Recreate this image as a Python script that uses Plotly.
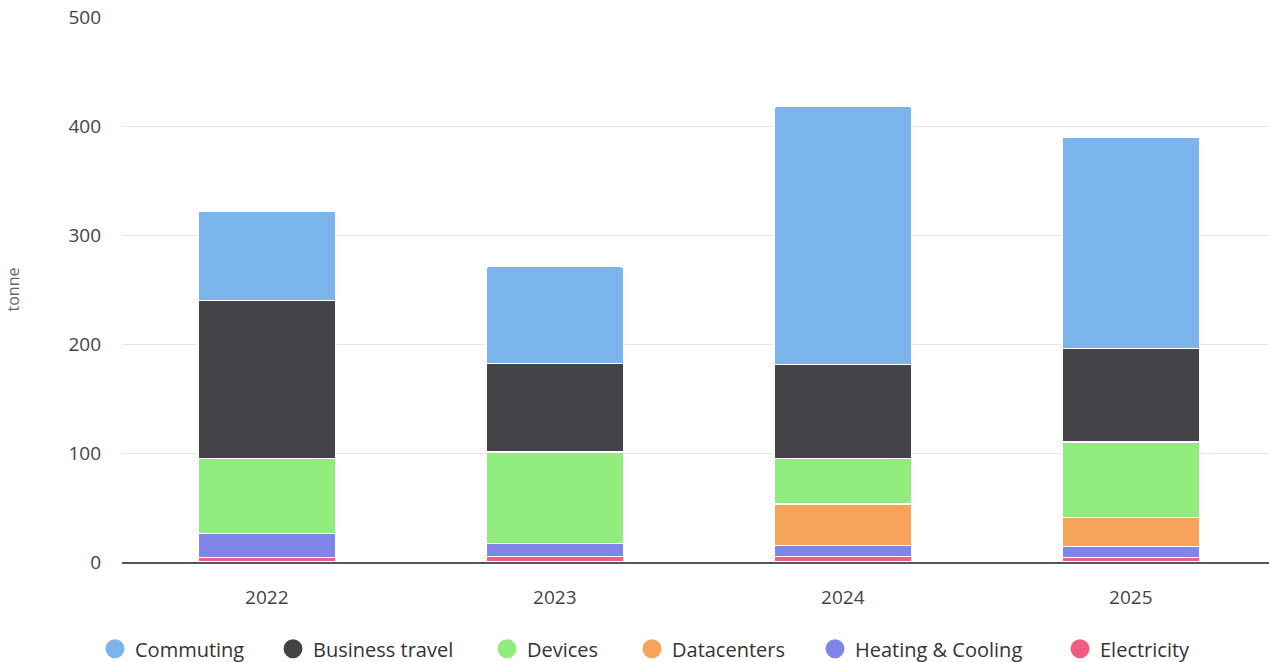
import plotly.graph_objects as go

years = ["2022", "2023", "2024", "2025"]
electricity = [4, 5, 5, 4]
heating_cooling = [22, 12, 10, 10]
datacenters = [0, 0, 38, 27]
devices = [69, 84, 42, 69]
business_travel = [145, 81, 86, 86]
commuting = [82, 89, 237, 194]

series = [
    ("Electricity", electricity, "#f15c80"),
    ("Heating & Cooling", heating_cooling, "#8085e9"),
    ("Datacenters", datacenters, "#f7a35c"),
    ("Devices", devices, "#90ed7d"),
    ("Business travel", business_travel, "#434348"),
    ("Commuting", commuting, "#7cb5ec"),
]
legend_marker_px = [115, 293, 507, 652, 835, 1080]

fig = go.Figure()
for name, vals, color in series:
    fig.add_trace(go.Bar(
        x=years, y=vals, name=name, marker_color=color,
        marker_line_color="white", marker_line_width=1.5,
        showlegend=False,
    ))
# legend entries with circle markers, in reference order, each in its own legend
legend_layout = {}
for i, (name, vals, color) in enumerate(reversed(series)):
    lid = "legend" if i == 0 else f"legend{i + 1}"
    fig.add_trace(go.Scatter(
        x=[None], y=[None], mode="markers", name=name, legend=lid,
        marker=dict(symbol="circle", size=16, color=color,
                    line=dict(color=color, width=3)),
    ))
    legend_layout[lid] = dict(
        orientation="h", x=(legend_marker_px[i] - 20) / 1269, xanchor="left",
        xref="container", y=0.02, yanchor="middle", yref="container",
        font=dict(size=20, color="#333333"), itemsizing="trace",
        bgcolor="rgba(0,0,0,0)",
    )

fig.update_layout(
    barmode="stack",
    bargap=0.521,
    barcornerradius=3,
    width=1269, height=662,
    margin=dict(l=122, r=0, t=17, b=100, autoexpand=False),
    paper_bgcolor="white", plot_bgcolor="white",
    font=dict(family="Open Sans", size=19, color="#333333"),
    showlegend=True,
    **legend_layout,
)
fig.update_xaxes(
    range=[-0.503, 3.48],
    showline=True, linecolor="#555555", linewidth=2,
    showgrid=False, ticks="", tickfont=dict(size=19, color="#444444"),
    ticklabelstandoff=17,
)
fig.update_yaxes(
    range=[0, 500], tickvals=[0, 100, 200, 300, 400, 500],
    showgrid=True, gridcolor="#e6e6e6", gridwidth=1, zeroline=False,
    tickfont=dict(size=19, color="#444444"), ticklabelstandoff=20,
    title=dict(text="tonne", font=dict(size=16, color="#666666"), standoff=44),
)
fig.write_html("out.html")
